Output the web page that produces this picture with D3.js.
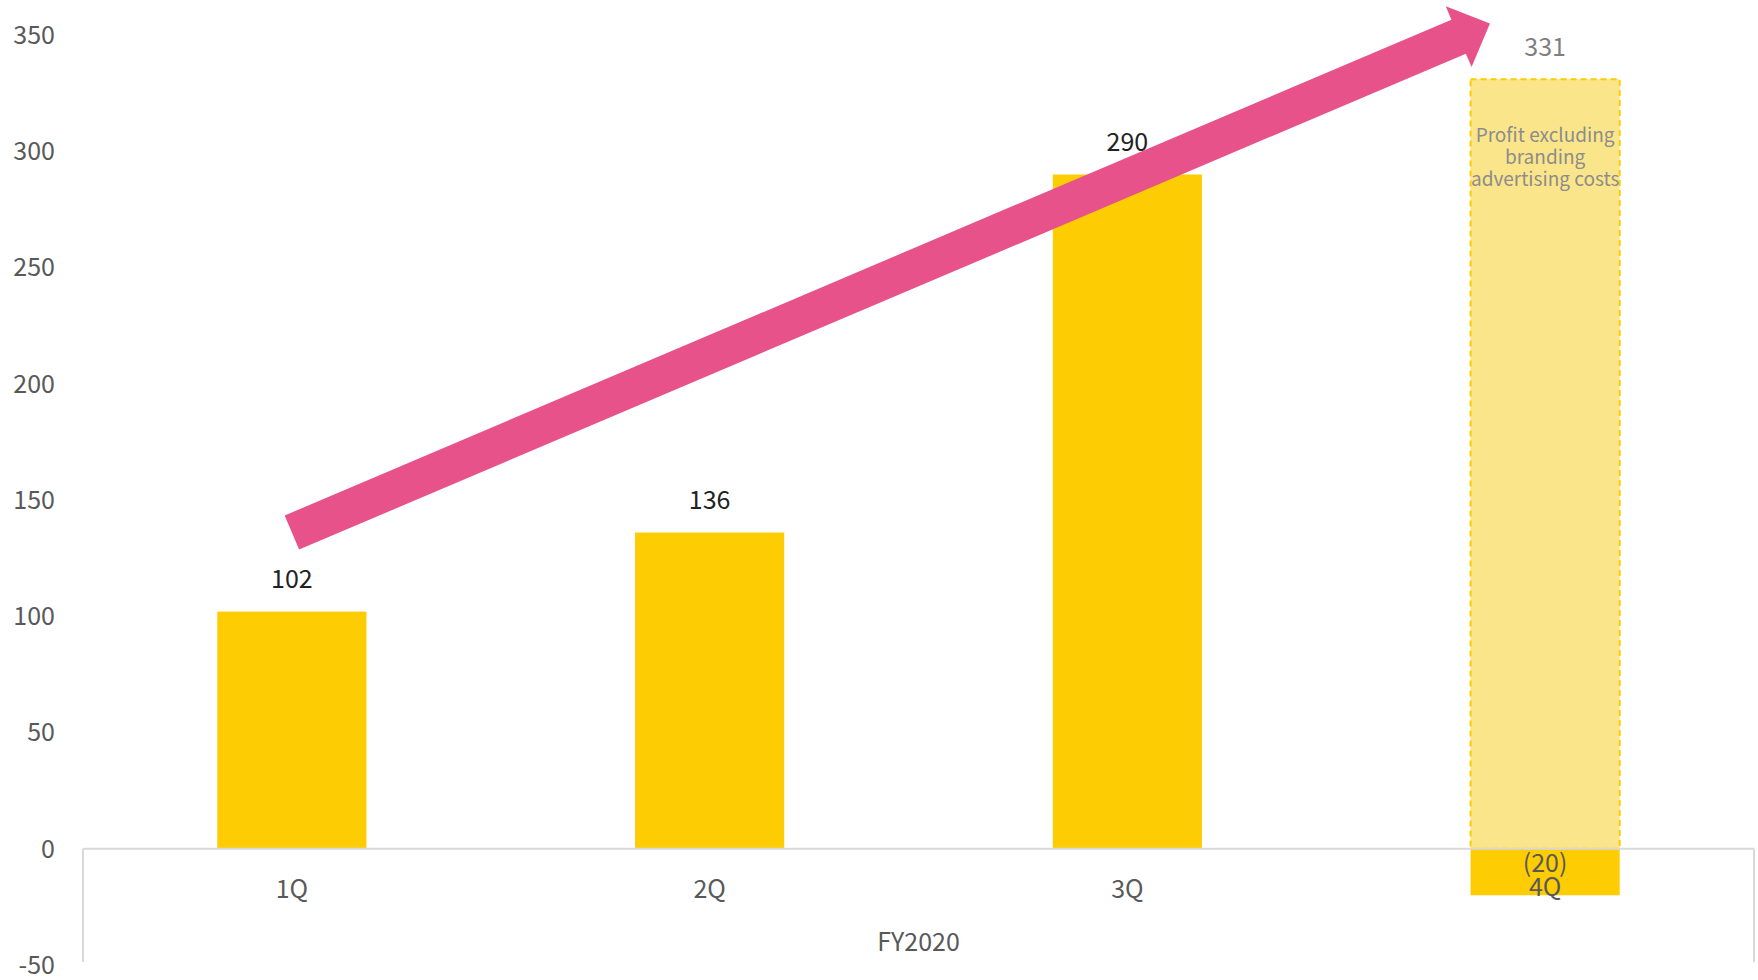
<!DOCTYPE html>
<html>
<head>
<meta charset="utf-8">
<script src="https://cdn.jsdelivr.net/npm/d3@7"></script>
<style>
  body { margin: 0; background: #fff; }
  svg text { font-family: "Noto Sans CJK JP", "Noto Sans", sans-serif; }
</style>
</head>
<body>
<script>
// quarterly profit, FY2020
const quarters = ["1Q", "2Q", "3Q", "4Q"];
const profit = [102, 136, 290, -20];
const profitExAds = [null, null, null, 331];
const profitLabels = ["102", "136", "290", "(20)"];
const yTicks = [-50, 0, 50, 100, 150, 200, 250, 300, 350];
const groupLabel = "FY2020";
const noteLines = ["Profit excluding", "branding", "advertising costs"];
// trend arrow, in data terms
const arrowStart = { cat: "1Q", value: 136 };
const arrowEnd = { cat: "4Q", value: 355 };

const width = 1758, height = 980;
const left = 83, right = 1754;

const svg = d3.select("body").append("svg")
  .attr("width", width)
  .attr("height", height);

const x = d3.scaleBand()
  .domain(quarters)
  .range([left, right])
  .paddingInner(0.643)
  .paddingOuter(0.3215);

const y = d3.scaleLinear()
  .domain([-50, 350])
  .range([965, 35]);

const bw = x.bandwidth();
const cx = d => x(d) + bw / 2;

// y tick labels (no axis line)
svg.selectAll(".ytick")
  .data(yTicks)
  .enter().append("text")
  .attr("x", 55)
  .attr("y", d => y(d))
  .attr("dy", "0.35em")
  .attr("text-anchor", "end")
  .attr("fill", "#595959")
  .style("font-size", "25px")
  .text(d => d);

// 4Q: profit excluding branding ads (dashed box)
quarters.forEach((q, i) => {
  if (profitExAds[i] == null) return;
  svg.append("rect")
    .attr("x", x(q))
    .attr("y", y(profitExAds[i]))
    .attr("width", bw)
    .attr("height", y(0) - y(profitExAds[i]))
    .attr("fill", "#FBE58A")
    .attr("stroke", "#FFCC00")
    .attr("stroke-width", 2)
    .attr("stroke-dasharray", "6,4");

  svg.append("text")
    .attr("x", cx(q))
    .attr("y", y(profitExAds[i]) - 32)
    .attr("dy", "0.35em")
    .attr("text-anchor", "middle")
    .attr("fill", "#7f7f7f")
    .style("font-size", "25px")
    .text(profitExAds[i]);

  svg.append("g").selectAll("text")
    .data(noteLines)
    .enter().append("text")
    .attr("x", cx(q))
    .attr("y", (d, j) => y(profitExAds[i]) + 56 + j * 22)
    .attr("dy", "0.35em")
    .attr("text-anchor", "middle")
    .attr("fill", "#8c8c8c")
    .style("font-size", "19px")
    .text(d => d);
});

// bars
svg.selectAll(".bar")
  .data(quarters)
  .enter().append("rect")
  .attr("class", "bar")
  .attr("x", d => x(d))
  .attr("y", (d, i) => y(Math.max(0, profit[i])))
  .attr("width", bw)
  .attr("height", (d, i) => Math.abs(y(profit[i]) - y(0)))
  .attr("fill", "#FDCC02");

// axis box lines
const axisG = svg.append("g")
  .attr("stroke", "#D9D9D9")
  .attr("stroke-width", 2)
  .attr("fill", "none");
axisG.append("line").attr("x1", left).attr("x2", right).attr("y1", y(0)).attr("y2", y(0));
axisG.append("line").attr("x1", left).attr("x2", left).attr("y1", y(0)).attr("y2", 962);
axisG.append("line").attr("x1", right).attr("x2", right).attr("y1", y(0)).attr("y2", 962);

// value labels
svg.selectAll(".vlab")
  .data(quarters)
  .enter().append("text")
  .attr("x", d => cx(d))
  .attr("y", (d, i) => profit[i] >= 0 ? y(profit[i]) - 32 : y(0) + 14)
  .attr("dy", "0.35em")
  .attr("text-anchor", "middle")
  .attr("fill", (d, i) => profit[i] >= 0 ? "#222" : "#595959")
  .style("font-size", "25px")
  .text((d, i) => profitLabels[i]);

// category labels
svg.selectAll(".clab")
  .data(quarters)
  .enter().append("text")
  .attr("x", d => cx(d))
  .attr("y", (d, i) => profit[i] >= 0 ? y(0) + 40 : y(0) + 38)
  .attr("dy", "0.35em")
  .attr("text-anchor", "middle")
  .attr("fill", "#595959")
  .style("font-size", "25px")
  .text(d => d);

svg.append("text")
  .attr("x", (left + right) / 2)
  .attr("y", y(0) + 93)
  .attr("dy", "0.35em")
  .attr("text-anchor", "middle")
  .attr("fill", "#595959")
  .style("font-size", "25px")
  .text(groupLabel);

// trend arrow
const p0 = [cx(arrowStart.cat), y(arrowStart.value)];
const p1 = [x(arrowEnd.cat) + bw * 0.13, y(arrowEnd.value)];
const dx = p1[0] - p0[0], dy = p1[1] - p0[1];
const len = Math.hypot(dx, dy);
const u = [dx / len, dy / len];
const n = [-u[1], u[0]];
const shaftW = 18.5, headW = 33, headL = 34;
const base = [p1[0] - u[0] * headL, p1[1] - u[1] * headL];
const pt = (p, k) => [p[0] + n[0] * k, p[1] + n[1] * k];
const arrowPts = [
  pt(p0, shaftW), pt(base, shaftW), pt(base, headW), p1,
  pt(base, -headW), pt(base, -shaftW), pt(p0, -shaftW)
];
svg.append("path")
  .attr("d", d3.line()(arrowPts) + "Z")
  .attr("fill", "#E8528A");
</script>
</body>
</html>
